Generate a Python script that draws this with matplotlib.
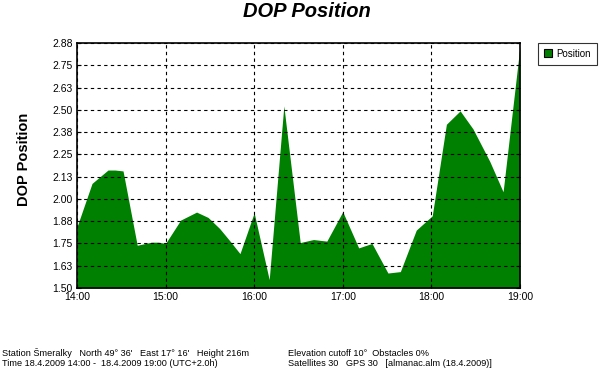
import numpy as np
import matplotlib
matplotlib.use('Agg')
from matplotlib import pyplot as plt

plt.rcParams['font.family'] = ['Liberation Sans', 'DejaVu Sans']

# Hours after 14:00 and DOP value.
hours = [0.0, 0.17, 0.35, 0.43, 0.52, 0.68, 0.84, 0.92, 1.0, 1.17, 1.35,
         1.48, 1.61, 1.72, 1.84, 2.0, 2.17, 2.335, 2.52, 2.67, 2.82, 3.0,
         3.18, 3.33, 3.51, 3.65, 3.83, 4.01, 4.17, 4.325, 4.47, 4.66, 4.81,
         5.0]
dop = [1.843, 2.087, 2.162, 2.162, 2.157, 1.740, 1.757, 1.757, 1.75,
       1.881, 1.926, 1.896, 1.834, 1.768, 1.693, 1.922, 1.547, 2.522,
       1.755, 1.772, 1.763, 1.928, 1.725, 1.75, 1.584, 1.592, 1.825, 1.905,
       2.419, 2.494, 2.393, 2.21, 2.04, 2.856]

y_ticks = [1.5, 1.625, 1.75, 1.875, 2.0, 2.125, 2.25, 2.375, 2.5, 2.625,
           2.75, 2.875]
y_labels = ['1.50', '1.63', '1.75', '1.88', '2.00', '2.13', '2.25', '2.38',
            '2.50', '2.63', '2.75', '2.88']
x_ticks = [0, 1, 2, 3, 4, 5]
x_labels = ['14:00', '15:00', '16:00', '17:00', '18:00', '19:00']

info_left = ["Station \u0160meralky   North 49\u00b0 36'   East 17\u00b0 16'   Height 216m",
             "Time 18.4.2009 14:00 -  18.4.2009 19:00 (UTC+2.0h)"]
info_right = ["Elevation cutoff 10\u00b0  Obstacles 0%",
              "Satellites 30   GPS 30   [almanac.alm (18.4.2009)]"]

fig = plt.figure(figsize=(5.99, 3.68), dpi=100)
ax = fig.add_axes([0.1285, 0.2174, 0.7395, 0.6658])

ax.fill_between(hours, 1.5, dop, color='#008000', lw=0, label='Position')

ax.set_xlim(0, 5)
ax.set_ylim(1.5, 2.875)
ax.set_xticks(x_ticks)
ax.set_xticklabels(x_labels, fontsize=7.5)
ax.set_yticks(y_ticks)
ax.set_yticklabels(y_labels, fontsize=7.5)
ax.tick_params(direction='in', length=3, right=True, top=False, pad=3)
ax.grid(True, color='black', linestyle=(0, (3, 3)), linewidth=0.8)
ax.set_axisbelow(False)
for s in ax.spines.values():
    s.set_linewidth(1.2)

ax.set_ylabel('DOP Position', fontsize=10.5, fontweight='bold')
ax.yaxis.set_label_coords(-0.104, 0.525)
fig.text(0.5125, 0.970, 'DOP Position', ha='center', va='center',
         fontsize=14.5, fontweight='bold', fontstyle='italic')

leg = ax.legend(loc='upper left', bbox_to_anchor=(1.0406, 1.0),
                borderaxespad=0, fontsize=7, frameon=True, fancybox=False,
                handlelength=0.9, handleheight=0.9, borderpad=0.6,
                handletextpad=0.4)
leg.get_frame().set_edgecolor('black')
leg.get_frame().set_linewidth(0.8)
leg.legend_handles[0].set_edgecolor('black')
leg.legend_handles[0].set_linewidth(0.8)

for i, t in enumerate(info_left):
    fig.text(2 / 599, 1 - (353 + 11 * i) / 368, t, fontsize=6.6, va='center')
for i, t in enumerate(info_right):
    fig.text(288 / 599, 1 - (353 + 11 * i) / 368, t, fontsize=6.6, va='center')

fig.savefig('out.png', dpi=100)
